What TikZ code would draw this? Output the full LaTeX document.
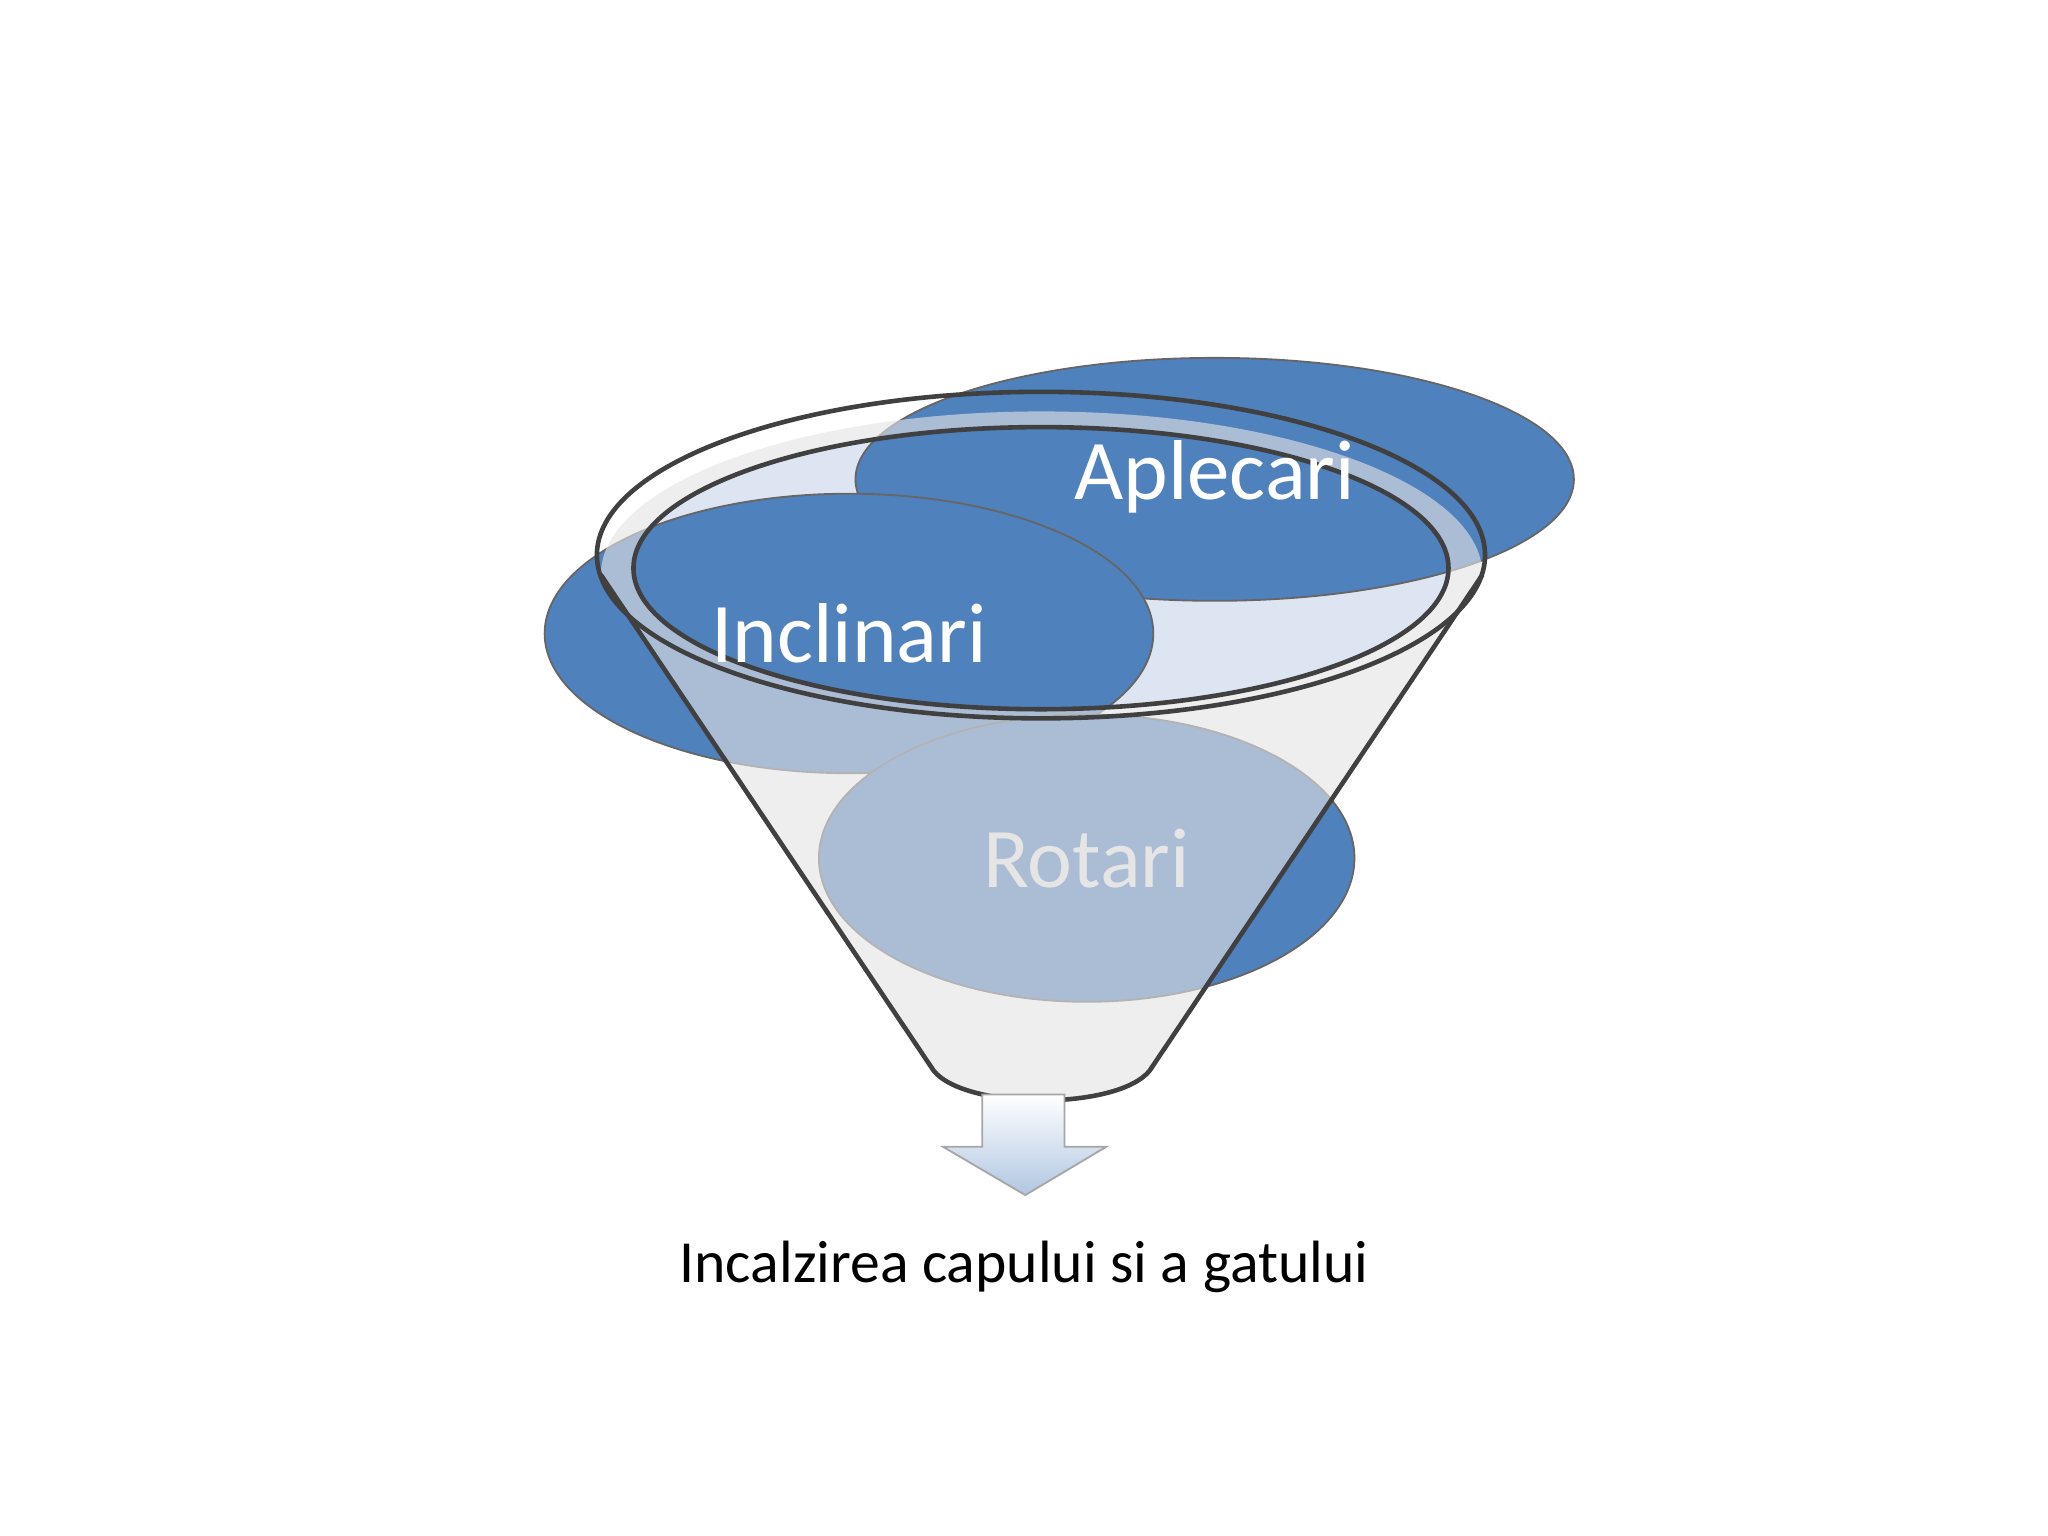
\documentclass[tikz,border=0pt]{standalone}
\usepackage{fontspec}
\setmainfont{Carlito}
\begin{document}
\begin{tikzpicture}[x=0.01cm,y=-0.01cm,
  lab/.style={text=white,font=\fontsize{18.5}{22}\selectfont}]
\useasboundingbox (0,0) rectangle (1568,1176);
\definecolor{bl}{HTML}{4F81BD}
\definecolor{pale}{HTML}{DDE4F2}
% back of funnel
\fill[pale] (797,435) ellipse [x radius=312,y radius=108];
\fill[bl,draw=black!60] (930,367) ellipse [x radius=275,y radius=93];
\fill[bl,draw=black!60] (650,485) ellipse [x radius=233,y radius=107];
\fill[bl,draw=black!60] (832,657) ellipse [x radius=205,y radius=110];
% funnel front body (cone minus inner opening)
\fill[gray!22,fill opacity=0.62,even odd rule]
  (460,440) -- (715,820) .. controls (740,850) and (855,850) .. (880,820) -- (1135,440)
  arc[start angle=0,end angle=-180,x radius=337.5,y radius=125] -- cycle
  (797,435) ellipse [x radius=312,y radius=108];
\draw[black!75,line width=1pt] (460,440) -- (715,820) .. controls (740,850) and (855,850) .. (880,820) -- (1135,440);
\draw[black!75,line width=1pt] (797,425) ellipse [x radius=340,y radius=125];
\draw[black!75,line width=1pt] (797,435) ellipse [x radius=312,y radius=108];
\node[lab] (a) at (930,365) {Aplecari};
\node[lab] (i) at (650,485) {Inclinari};
\node[lab,text=black!10] (r) at (832,657) {Rotari};
% arrow
\fill[top color=white,bottom color=bl!45,draw=gray!70] (752,838) -- (815,838) -- (815,878) -- (847,878) -- (785,915) -- (722,878) -- (752,878) -- cycle;
\node[font=\fontsize{13}{16}\selectfont] (t) at (784,970) {Incalzirea capului si a gatului};
\end{tikzpicture}
\end{document}
